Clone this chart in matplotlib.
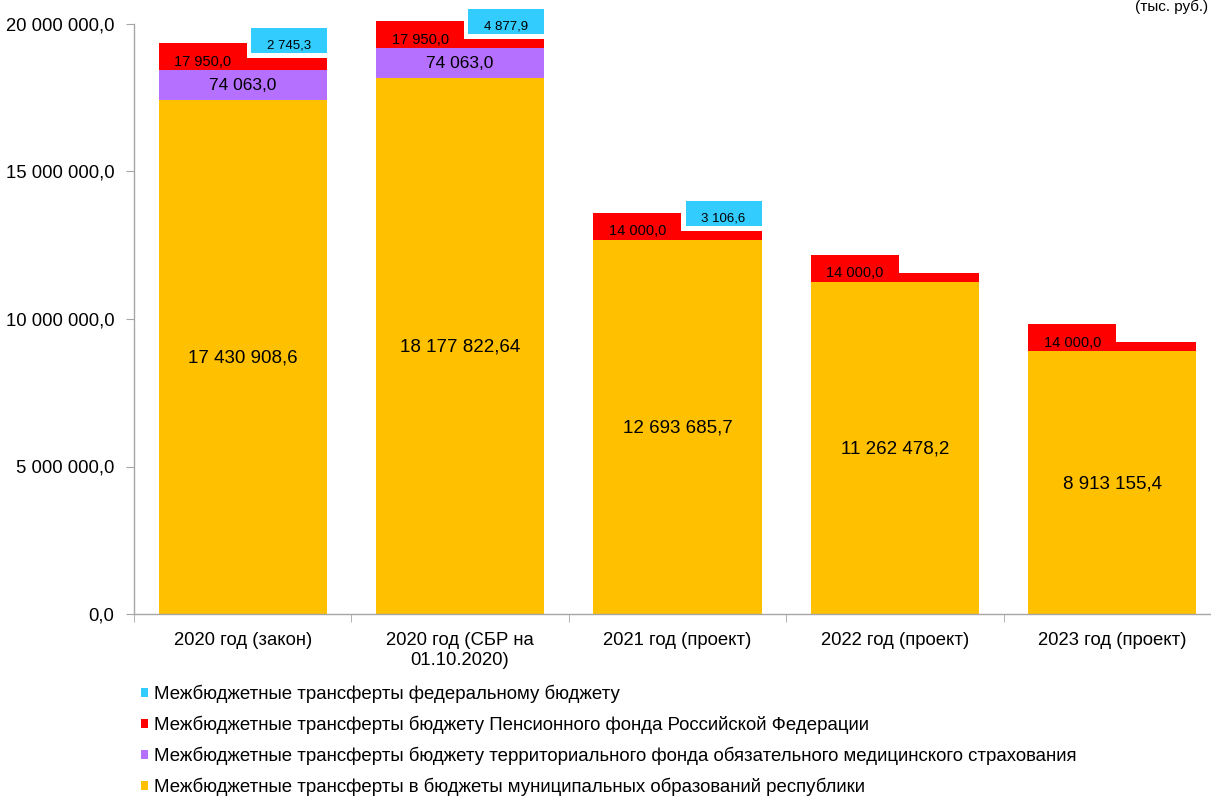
import matplotlib
matplotlib.use("Agg")
import matplotlib.pyplot as plt
from matplotlib.patches import Rectangle

plt.rcParams['font.family'] = ['Liberation Sans', 'DejaVu Sans']

# ---------------- data ----------------
categories = ['2020 год (закон)', '2020 год (СБР на\n01.10.2020)', '2021 год (проект)',
              '2022 год (проект)', '2023 год (проект)']
municipal = [17430908.6, 18177822.64, 12693685.7, 11262478.2, 8913155.4]
municipal_labels = ['17 430 908,6', '18 177 822,64', '12 693 685,7', '11 262 478,2', '8 913 155,4']
tfoms_labels = ['74 063,0', '74 063,0', None, None, None]
pension_labels = ['17 950,0', '17 950,0', '14 000,0', '14 000,0', '14 000,0']
federal_labels = ['2 745,3', '4 877,9', '3 106,6', None, None]
# segment heights as drawn in the source chart (small series are exaggerated there)
tfoms_drawn = [1000000, 1000000, 0, 0, 0]
pension_drawn = [420000, 330000, 300000, 300000, 300000]
federal_drawn = [0, 0, 0, 0, 0]

series_names = ['Межбюджетные трансферты федеральному бюджету',
                'Межбюджетные трансферты бюджету Пенсионного фонда Российской Федерации',
                'Межбюджетные трансферты бюджету территориального фонда обязательного медицинского страхования',
                'Межбюджетные трансферты в бюджеты муниципальных образований республики']
yticks = [0, 5000000, 10000000, 15000000, 20000000]
ytick_labels = ['0,0', '5 000 000,0', '10 000 000,0', '15 000 000,0', '20 000 000,0']

c_yellow = '#FFC000'
c_purple = '#B570FF'
c_red = '#FF0000'
c_cyan = '#33CCFF'

W, H = 1211, 796
fig = plt.figure(figsize=(W / 100, H / 100), dpi=100)
ax_l, ax_r, ax_b, ax_t = 134, 1221, 614, 24
ax = fig.add_axes([ax_l / W, 1 - ax_b / H, (ax_r - ax_l) / W, (ax_b - ax_t) / H])

x = list(range(len(categories)))
bw = 0.773
b_mun = ax.bar(x, municipal, width=bw, color=c_yellow, zorder=2)
base1 = municipal
b_tf = ax.bar(x, tfoms_drawn, bottom=base1, width=bw, color=c_purple, zorder=2)
base2 = [a + b for a, b in zip(base1, tfoms_drawn)]
b_pen = ax.bar(x, pension_drawn, bottom=base2, width=bw, color=c_red, zorder=2)
base3 = [a + b for a, b in zip(base2, pension_drawn)]
b_fed = ax.bar(x, federal_drawn, bottom=base3, width=bw, color=c_cyan, zorder=2)

ax.set_xlim(-0.5, 4.5)
ax.set_ylim(0, 20000000)

ypx = 20000000 / (ax_b - ax_t)      # data units per pixel (y)
xpx = 5 / (ax_r - ax_l)             # data units per pixel (x)

for i in x:
    ax.text(i, municipal[i] / 2 - 1 * ypx, municipal_labels[i], ha='center', va='center',
            fontsize=13.5, zorder=5)
    if tfoms_labels[i]:
        ax.text(i, base1[i] + tfoms_drawn[i] / 2, tfoms_labels[i], ha='center', va='center',
                fontsize=12.5, zorder=5)
    if pension_labels[i]:
        left = i - bw / 2
        ax.add_patch(Rectangle((left, base2[i]), 88 * xpx, 27 * ypx, facecolor=c_red,
                               edgecolor='none', zorder=3, clip_on=False))
        ax.text(left + 44 * xpx, base2[i] + 8.5 * ypx, pension_labels[i], ha='center', va='center',
                fontsize=10.5, zorder=5, clip_on=False)
    if federal_labels[i]:
        right = i + bw / 2
        bot = base3[i] + 4.5 * ypx
        ax.add_patch(Rectangle((right - 76 * xpx, bot), 76 * xpx, 25 * ypx, facecolor=c_cyan,
                               edgecolor='none', zorder=3, clip_on=False))
        ax.text(right - 38 * xpx, bot + 8 * ypx, federal_labels[i], ha='center', va='center',
                fontsize=9.5, zorder=5, clip_on=False)

# axes styling
for s in ['top', 'right']:
    ax.spines[s].set_visible(False)
for s in ['left', 'bottom']:
    ax.spines[s].set_color('#A6A6A6')
    ax.spines[s].set_linewidth(1.0)
ax.set_yticks(yticks)
ax.set_yticklabels(ytick_labels, fontsize=13.3)
ax.tick_params(axis='y', length=6, color='#A6A6A6', pad=8)
ax.set_xticks(x)
ax.set_xticklabels(categories, fontsize=13.3, linespacing=1.25)
ax.tick_params(axis='x', which='major', length=0, pad=13)
ax.set_xticks([i - 0.5 for i in range(len(categories) + 1)], minor=True)
ax.tick_params(axis='x', which='minor', length=6, color='#A6A6A6')

# unit label at the top right
fig.text(1208 / W, 1.0, '(тыс. руб.)', ha='right', va='top', fontsize=11)

# legend
colors = [c_cyan, c_red, c_purple, c_yellow]
proxies = [Rectangle((0, 0), 1, 1, facecolor=c) for c in colors]
leg = fig.legend(proxies, series_names, loc='upper left', bbox_to_anchor=(141 / W, 1 - 685 / H),
                 frameon=False, fontsize=13.4, handlelength=0.4, handleheight=0.4,
                 handletextpad=0.3, labelspacing=0.68, borderaxespad=0, borderpad=0)

fig.savefig('out.png', dpi=100)
